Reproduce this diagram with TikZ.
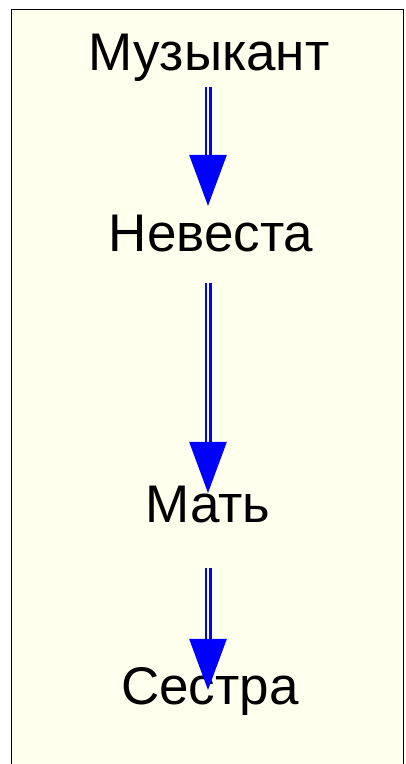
\documentclass[tikz,border=0pt]{standalone}
\usepackage{fontspec}
\usetikzlibrary{arrows.meta}
\setmainfont{Liberation Sans}
\definecolor{paper}{RGB}{255,255,238}

\begin{document}
\begin{tikzpicture}[x=1pt, y=1pt,
  every node/.style={inner sep=0pt, anchor=base, font=\fontsize{53}{60}\selectfont},
  link/.style={draw=blue, line width=2.5pt, double=paper, double distance=2pt,
    -{Triangle[length=51pt, width=37pt]}}]

\useasboundingbox (0,0) rectangle (405,764);
\draw[fill=paper, line width=1pt] (11,-5) rectangle (403,754);

\node (muz) at (209,693) {Музыкант};
\node (nev) at (211,512) {Невеста};
\node (mat) at (208,241) {Мать};
\node (ses) at (210,59) {Сестра};

\draw[link] ([yshift=-16pt]muz.base -| 208,0) -- ([yshift=46pt]nev.base -| 208,0);
\draw[link] ([yshift=-31pt]nev.base -| 208,0) -- ([yshift=30pt]mat.base -| 208,0);
\draw[link] ([yshift=-45pt]mat.base -| 208,0) -- ([yshift=15pt]ses.base -| 208,0);

\end{tikzpicture}
\end{document}
